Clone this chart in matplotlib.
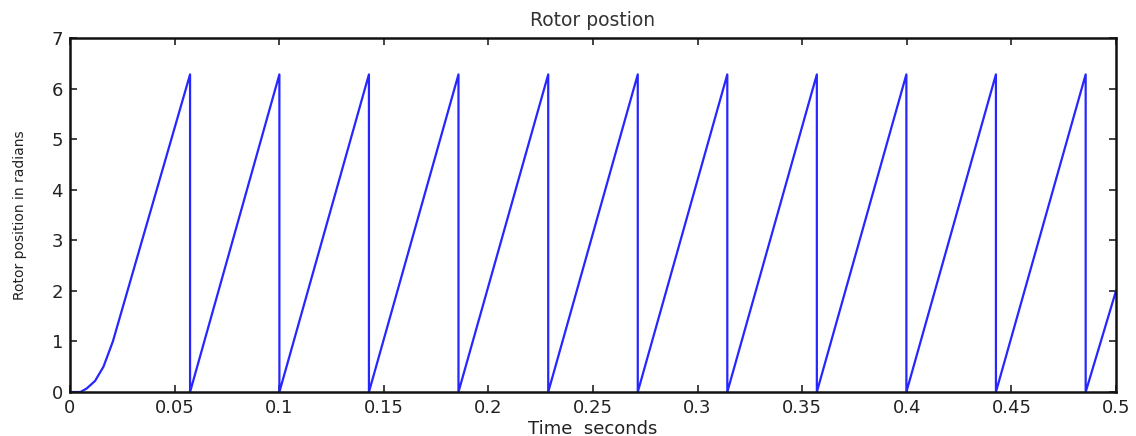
# Rotor position plot (sawtooth between 0 and 2*pi)
import numpy as np
import matplotlib.pyplot as plt

# Step 1: Data
# start-up part before the first wrap
t_start = [0.0, 0.005, 0.008, 0.012, 0.016, 0.0205]
theta_start = [0.0, 0.0, 0.07, 0.22, 0.5, 1.0]

# times where the angle wraps from 2*pi back to 0
t_wrap = [0.0574, 0.1001, 0.1429, 0.1857, 0.2286, 0.2714,
          0.3142, 0.3570, 0.3998, 0.4426, 0.4855]
theta_peak = 6.28

# last sample
t_end = 0.5
theta_end = 2.0

# Step 2: Build the line vertices
t = list(t_start)
theta = list(theta_start)
for tw in t_wrap:
    t += [tw, tw]
    theta += [theta_peak, 0.0]
t.append(t_end)
theta.append(theta_end)

# Step 3: Plot
plt.rcParams['font.family'] = ['DejaVu Sans']
fig = plt.figure(figsize=(11.36, 4.36), dpi=100)
ax = fig.add_axes([0.0616, 0.1009, 0.9208, 0.8119])

ax.plot(t, theta, color=(0.15, 0.15, 1.0), linewidth=1.6)

ax.set_xlim(0, 0.5)
ax.set_ylim(0, 7)
ax.set_xticks(np.arange(0, 0.51, 0.05))
ax.set_xticklabels(['0', '0.05', '0.1', '0.15', '0.2', '0.25', '0.3',
                    '0.35', '0.4', '0.45', '0.5'])
ax.set_yticks(range(0, 8))

ax.tick_params(direction='in', length=5, width=1.2, top=True, right=True,
               labelsize=13, colors='#222222', pad=5)
for s in ax.spines.values():
    s.set_linewidth(1.8)
    s.set_color('#111111')

ax.set_title('Rotor postion', fontsize=13.5, color='#333333', pad=9)
ax.set_xlabel('Time  seconds', fontsize=13, color='#222222', labelpad=2)
ax.set_ylabel('Rotor position in radians', fontsize=10, color='#222222',
              labelpad=18)

plt.savefig('out.png', dpi=100)
